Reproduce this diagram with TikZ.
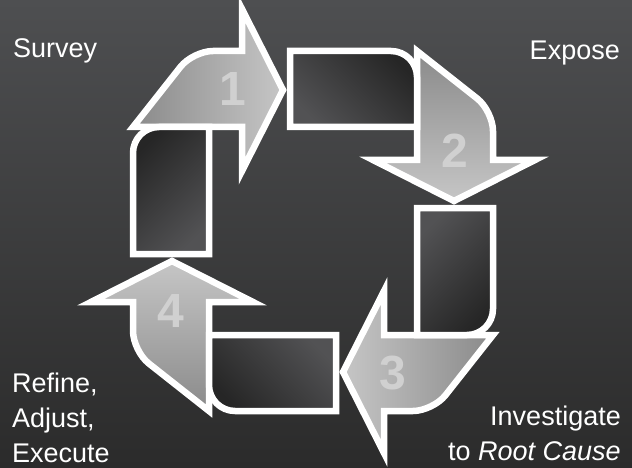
\documentclass[tikz,border=0pt]{standalone}
\usepackage{fontspec}
\setmainfont{Liberation Sans}
\definecolor{bgtop}{HTML}{4E4F51}
\definecolor{bgbot}{HTML}{2B2B2B}
\definecolor{ribdark}{HTML}{8A8A8A}
\definecolor{riblight}{HTML}{C6C6C6}
\definecolor{slabdark}{HTML}{262626}
\definecolor{slablight}{HTML}{525254}
\definecolor{numgray}{HTML}{D0D0D0}
\begin{document}
\begin{tikzpicture}[x=1pt, y=-1pt,
    ribbon/.style={draw=white, line width=6.5pt, line join=miter, bottom color=ribdark, top color=riblight},
    slab/.style={draw=white, line width=6.5pt, top color=slabdark, bottom color=slablight},
    label/.style={text=white, font=\fontsize{27}{35}\selectfont, inner sep=0pt},
    digit/.style={text=numgray, font=\fontsize{48}{48}\selectfont\bfseries, inner sep=0pt}]
  \path[use as bounding box, top color=bgtop, bottom color=bgbot] (0,0) rectangle (632,468);
  % the four bent arrows
  \foreach \i [count=\k] in {0,...,3}{
    \begin{scope}[shift={(313,231)}, rotate=-90*\i]
      \path[ribbon, shading angle=-90-90*\i] (-180,-104) [rounded corners=20pt] -- (-120,-180)
        [sharp corners] -- (-71,-180) -- (-71,-222) -- (-30,-141) -- (-71,-60) -- (-71,-104) -- cycle;
      \node[digit] (n\k) at (-80,-142) {\k};
    \end{scope}}
  % the four dark slabs
  \foreach \i in {0,...,3}{
    \begin{scope}[shift={(313,231)}, rotate=-90*\i]
      \path[slab, shading angle=45-90*\i] (-180,23) [rounded corners=26pt] -- (-180,-104)
        [sharp corners] -- (-104,-104) -- (-104,23) -- cycle;
    \end{scope}}
  \node[label, anchor=base west] (survey) at (13,58) {Survey};
  \node[label, anchor=base east] (expose) at (620,60) {Expose};
  \node[label, align=left, anchor=base west] (refine) at (12,462) {Refine,\\Adjust,\\Execute};
  \node[label, align=right, anchor=base east] (cause) at (621,460) {Investigate\\to \textit{Root Cause}};
\end{tikzpicture}
\end{document}
